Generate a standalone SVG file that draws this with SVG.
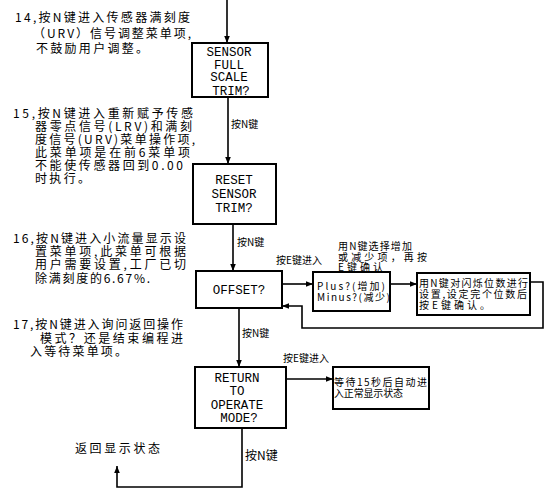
<svg xmlns="http://www.w3.org/2000/svg" width="553" height="496" viewBox="0 0 553 496">
<style>
.box{fill:#fff;stroke:#000;stroke-width:2}
.ln{fill:none;stroke:#000;stroke-width:1.6}
.note{font-family:"Noto Sans CJK SC","Noto Sans CJK JP",sans-serif;font-size:12px;fill:#000}
.sm{font-family:"Noto Sans CJK SC","Noto Sans CJK JP",sans-serif;font-size:10px;fill:#000}
.bt{font-family:"Liberation Mono",monospace;font-size:12.5px;fill:#000;text-anchor:middle}
</style>
<defs>
<marker id="ah" viewBox="0 0 10 10" refX="10" refY="5" markerWidth="7" markerHeight="7" markerUnits="userSpaceOnUse" orient="auto">
<path d="M0,1 L10,5 L0,9 z" fill="#000"/>
</marker>
</defs>
<g id="connectors">
<path class="ln" d="M227,0 V43" marker-end="url(#ah)"/>
<path class="ln" d="M228,97 V164" marker-end="url(#ah)"/>
<path class="ln" d="M233,224 V271" marker-end="url(#ah)"/>
<path class="ln" d="M239,308 V367" marker-end="url(#ah)"/>
<path class="ln" d="M282,284 H313" marker-end="url(#ah)"/>
<path class="ln" d="M390,284 H417" marker-end="url(#ah)"/>
<path class="ln" d="M530,282 H543 V328 H302 V306 H282" marker-end="url(#ah)"/>
<path class="ln" d="M286,379 H333" marker-end="url(#ah)"/>
<path class="ln" d="M242,428 V487 H117 V466" marker-end="url(#ah)"/>
<text class="sm" x="231" y="128">按N键</text>
<text class="sm" x="237" y="246">按N键</text>
<text class="sm" x="242" y="337">按N键</text>
<text class="sm" x="276" y="264">按E键进入</text>
<text class="sm" x="283" y="362">按E键进入</text>
<text class="note" x="245" y="460">按N键</text>
<text class="note" x="75" y="453" textLength="85" lengthAdjust="spacing">返回显示状态</text>
</g>
<g id="n1">
<rect class="box" x="192" y="43" width="76" height="54"/>
<text class="bt" x="229" y="56">SENSOR</text>
<text class="bt" x="229" y="69">FULL</text>
<text class="bt" x="229" y="81">SCALE</text>
<text class="bt" x="231" y="95">TRIM?</text>
</g>
<g id="n2">
<rect class="box" x="193" y="164" width="83" height="60"/>
<text class="bt" x="234" y="184">RESET</text>
<text class="bt" x="234" y="198">SENSOR</text>
<text class="bt" x="234" y="212">TRIM?</text>
</g>
<g id="n3">
<rect class="box" x="196" y="271" width="86" height="37"/>
<text class="bt" x="239" y="294">OFFSET?</text>
</g>
<g id="n4">
<rect class="box" x="313" y="272" width="77" height="39"/>
<text class="sm" x="317" y="290" textLength="68" lengthAdjust="spacing">Plus?(增加)</text>
<text class="sm" x="317" y="301" textLength="73" lengthAdjust="spacing">Minus?(减少)</text>
</g>
<g id="n4note">
<text class="sm" x="338" y="250" textLength="74" lengthAdjust="spacing">用N键选择增加</text>
<text class="sm" x="338" y="261" textLength="89" lengthAdjust="spacing">或减少项，再按</text>
<text class="sm" x="338" y="271" textLength="45" lengthAdjust="spacing">E键确认</text>
</g>
<g id="n5">
<rect class="box" x="417" y="273" width="113" height="42"/>
<text class="sm" x="419" y="287" textLength="109" lengthAdjust="spacing">用N键对闪烁位数进行</text>
<text class="sm" x="419" y="298" textLength="108" lengthAdjust="spacing">设置,设定完个位数后</text>
<text class="sm" x="419" y="309" textLength="71" lengthAdjust="spacing">按E键确认。</text>
</g>
<g id="n6">
<rect class="box" x="195" y="367" width="91" height="61"/>
<text class="bt" x="237" y="382">RETURN</text>
<text class="bt" x="237" y="395">TO</text>
<text class="bt" x="237" y="409">OPERATE</text>
<text class="bt" x="239" y="422">MODE?</text>
</g>
<g id="n7">
<rect class="box" x="333" y="367" width="96" height="42"/>
<text class="sm" x="334" y="386" textLength="93" lengthAdjust="spacing">等待15秒后自动进</text>
<text class="sm" x="334" y="397" textLength="69" lengthAdjust="spacing">入正常显示状态</text>
</g>
<g id="note14">
<text class="note" x="15" y="22" textLength="175" lengthAdjust="spacing">14,按N键进入传感器满刻度</text>
<text class="note" x="33" y="38" textLength="158" lengthAdjust="spacing">（URV）信号调整菜单项,</text>
<text class="note" x="36" y="53" textLength="112" lengthAdjust="spacing">不鼓励用户调整。</text>
</g>
<g id="note15">
<text class="note" x="13" y="118" textLength="180" lengthAdjust="spacing">15,按N键进入重新赋予传感</text>
<text class="note" x="35" y="131" textLength="157" lengthAdjust="spacing">器零点信号(LRV)和满刻</text>
<text class="note" x="35" y="144" textLength="160" lengthAdjust="spacing">度信号(URV)菜单操作项,</text>
<text class="note" x="35" y="157" textLength="155" lengthAdjust="spacing">此菜单项是在前6菜单项</text>
<text class="note" x="35" y="170" textLength="148" lengthAdjust="spacing">不能使传感器回到0.00</text>
<text class="note" x="35" y="183" textLength="55" lengthAdjust="spacing">时执行。</text>
</g>
<g id="note16">
<text class="note" x="13" y="243" textLength="173" lengthAdjust="spacing">16,按N键进入小流量显示设</text>
<text class="note" x="35" y="256" textLength="151" lengthAdjust="spacing">置菜单项,此菜单可根据</text>
<text class="note" x="35" y="269" textLength="151" lengthAdjust="spacing">用户需要设置,工厂已切</text>
<text class="note" x="35" y="283" textLength="115" lengthAdjust="spacing">除满刻度的6.67%.</text>
</g>
<g id="note17">
<text class="note" x="13" y="329" textLength="170" lengthAdjust="spacing">17,按N键进入询问返回操作</text>
<text class="note" x="40" y="343" textLength="143" lengthAdjust="spacing">模式？还是结束编程进</text>
<text class="note" x="30" y="356" textLength="97" lengthAdjust="spacing">入等待菜单项。</text>
</g>
</svg>
